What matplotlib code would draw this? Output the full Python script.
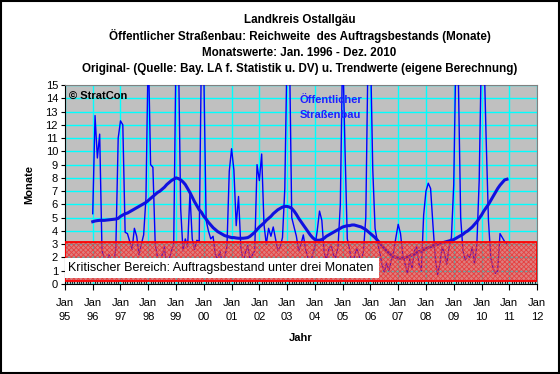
import matplotlib
matplotlib.use("Agg")
import matplotlib.pyplot as plt
from matplotlib.patches import Rectangle
import numpy as np

plt.rcParams['font.family'] = ['Liberation Sans', 'DejaVu Sans']
plt.rcParams['hatch.linewidth'] = 0.6

# Monatswerte Jan 1996 - Dez 2010, Reichweite in Monaten (Werte > 15 abgeschnitten)
original_1996 = [5.3, 12.7, 9.5, 11.3, 2.5, 2.0, 1.5, 2.2, 1.8, 1.2, 2.8, 11.0]
original_1997 = [12.3, 12.0, 3.9, 3.8, 3.2, 2.6, 4.2, 3.6, 2.2, 3.0, 3.7, 6.5]
original_1998 = [18.0, 9.0, 8.8, 3.0, 2.0, 1.5, 2.2, 2.8, 1.2, 1.8, 2.5, 3.0]
original_1999 = [18.0, 18.0, 5.7, 2.5, 3.4, 2.8, 6.8, 3.4, 2.6, 3.3, 3.2, 18.0]
original_2000 = [16.0, 4.8, 4.0, 3.4, 3.6, 2.2, 1.8, 2.5, 1.4, 2.0, 2.8, 8.5]
original_2001 = [10.2, 8.6, 4.4, 6.6, 2.8, 1.6, 2.4, 2.9, 1.8, 2.2, 2.5, 9.0]
original_2002 = [7.8, 9.8, 4.5, 3.0, 4.2, 3.6, 4.3, 3.4, 2.5, 2.8, 3.5, 7.2]
original_2003 = [18.0, 18.0, 5.0, 4.3, 3.6, 2.5, 3.0, 3.7, 2.6, 2.0, 1.5, 2.2]
original_2004 = [2.8, 4.0, 5.5, 4.8, 2.4, 1.8, 2.6, 3.0, 2.2, 2.0, 2.8, 6.0]
original_2005 = [18.0, 10.3, 3.4, 2.6, 1.5, 2.0, 2.7, 2.2, 1.6, 2.5, 5.0, 18.0]
original_2006 = [18.0, 8.7, 4.2, 3.2, 2.4, 1.5, 0.9, 1.6, 1.0, 1.8, 2.4, 3.5]
original_2007 = [4.5, 3.8, 2.2, 1.5, 0.8, 1.9, 1.2, 2.5, 2.8, 1.5, 1.0, 5.2]
original_2008 = [7.0, 7.6, 7.2, 4.5, 2.0, 0.7, 1.5, 2.8, 2.3, 1.5, 2.8, 3.5]
original_2009 = [7.5, 18.0, 15.5, 5.0, 2.5, 1.8, 2.2, 2.0, 2.8, 1.5, 3.0, 7.8]
original_2010 = [18.0, 18.0, 11.0, 4.8, 2.0, 1.2, 0.8, 1.0, 3.8, 3.5, 3.2, 3.0]

trend_1996 = [4.7, 4.75, 4.78, 4.8, 4.8, 4.8, 4.82, 4.84, 4.86, 4.88, 4.9, 4.95]
trend_1997 = [5.1, 5.2, 5.3, 5.35, 5.45, 5.55, 5.65, 5.75, 5.85, 5.95, 6.05, 6.15]
trend_1998 = [6.3, 6.45, 6.6, 6.75, 6.9, 7.0, 7.15, 7.3, 7.5, 7.65, 7.8, 7.9]
trend_1999 = [8.0, 7.95, 7.85, 7.7, 7.5, 7.2, 6.9, 6.55, 6.2, 5.9, 5.6, 5.4]
trend_2000 = [5.1, 4.9, 4.65, 4.45, 4.25, 4.1, 3.95, 3.85, 3.75, 3.65, 3.6, 3.55]
trend_2001 = [3.5, 3.5, 3.47, 3.45, 3.45, 3.45, 3.47, 3.5, 3.6, 3.75, 3.9, 4.1]
trend_2002 = [4.3, 4.45, 4.6, 4.8, 4.95, 5.1, 5.3, 5.45, 5.6, 5.7, 5.8, 5.85]
trend_2003 = [5.85, 5.8, 5.7, 5.5, 5.25, 4.95, 4.7, 4.45, 4.2, 3.95, 3.7, 3.5]
trend_2004 = [3.35, 3.3, 3.3, 3.35, 3.45, 3.6, 3.7, 3.8, 3.9, 4.0, 4.1, 4.2]
trend_2005 = [4.3, 4.35, 4.4, 4.4, 4.45, 4.45, 4.4, 4.35, 4.3, 4.2, 4.1, 3.95]
trend_2006 = [3.8, 3.65, 3.5, 3.3, 3.1, 2.9, 2.7, 2.5, 2.35, 2.2, 2.1, 2.0]
trend_2007 = [1.95, 1.95, 1.95, 2.0, 2.05, 2.1, 2.2, 2.25, 2.35, 2.45, 2.5, 2.6]
trend_2008 = [2.65, 2.75, 2.8, 2.9, 2.95, 3.0, 3.05, 3.1, 3.15, 3.2, 3.25, 3.3]
trend_2009 = [3.35, 3.45, 3.55, 3.65, 3.75, 3.9, 4.0, 4.15, 4.3, 4.5, 4.7, 4.95]
trend_2010 = [5.2, 5.5, 5.75, 6.0, 6.3, 6.6, 6.9, 7.2, 7.45, 7.65, 7.85, 7.9]

original = (original_1996 + original_1997 + original_1998 + original_1999 + original_2000 +
            original_2001 + original_2002 + original_2003 + original_2004 + original_2005 +
            original_2006 + original_2007 + original_2008 + original_2009 + original_2010)
trend = (trend_1996 + trend_1997 + trend_1998 + trend_1999 + trend_2000 +
         trend_2001 + trend_2002 + trend_2003 + trend_2004 + trend_2005 +
         trend_2006 + trend_2007 + trend_2008 + trend_2009 + trend_2010)

x = 1996 + np.arange(len(original)) / 12.0

tick_years = list(range(1995, 2013))
tick_labels = ["Jan\n%02d" % (y % 100) for y in tick_years]

fig = plt.figure(figsize=(5.6, 3.74), dpi=100)
ax = fig.add_axes([0.116, 0.2406, 0.843, 0.532])
ax.set_facecolor('#C0C0C0')

ax.plot(x, original, color='#0000FF', lw=1.0, zorder=3)
ax.plot(x, trend, color='#1010E0', lw=2.2, zorder=4)

# kritischer Bereich
ax.add_patch(Rectangle((1995, 0.25), 17, 2.9, facecolor='#FF3030', edgecolor='none', alpha=0.45, zorder=5))
ax.add_patch(Rectangle((1995, 0.25), 17, 2.9, facecolor='none', edgecolor='#E84040', hatch='xxxxxxx', lw=0, zorder=6))
ax.add_patch(Rectangle((1995, 0.25), 17, 2.9, facecolor='none', edgecolor='#FF0000', lw=1.3, zorder=7))
ax.add_patch(Rectangle((1995, 0.45), 11.3, 1.5, facecolor='white', edgecolor='none', zorder=8))
ax.text(1995.12, 1.2, "Kritischer Bereich: Auftragsbestand unter drei Monaten",
        fontsize=9, va='center', ha='left', zorder=9)

ax.text(1995.15, 14.2, "© StratCon", fontsize=8, fontweight='bold', va='center', zorder=9)
ax.text(2003.45, 13.3, "Öffentlicher\nStraßenbau", fontsize=8, fontweight='bold',
        color='#2020FF', va='center', linespacing=1.6, zorder=9)

ax.set_xlim(1995, 2012)
ax.set_ylim(0, 15)
ax.set_yticks(range(0, 16))
ax.set_xticks(tick_years)
ax.set_xticklabels(tick_labels, fontsize=8, linespacing=1.5)
ax.set_xticks(np.arange(1995, 2012, 1 / 12.0), minor=True)
ax.tick_params(axis='y', labelsize=8, length=3, pad=2)
ax.tick_params(axis='x', which='major', length=4, pad=6)
ax.tick_params(axis='x', which='minor', length=2, direction='in')

ax.grid(True, which='major', color='#00FFFF', lw=1.0, zorder=1)
ax.set_axisbelow(True)

for s in ['top', 'right']:
    ax.spines[s].set_color('#808080')
for s in ['left', 'bottom']:
    ax.spines[s].set_color('black')

ax.set_ylabel("Monate", fontsize=8, fontweight='bold', labelpad=8)
ax.set_xlabel("Jahr", fontsize=8, fontweight='bold', labelpad=8)

titles = ["Landkreis Ostallgäu",
          "Öffentlicher Straßenbau: Reichweite  des Auftragsbestands (Monate)",
          "Monatswerte: Jan. 1996 - Dez. 2010",
          "Original- (Quelle: Bay. LA f. Statistik u. DV) u. Trendwerte (eigene Berechnung)"]
for i, t in enumerate(titles):
    fig.text(0.535, 0.946 - i * 0.0435, t, fontsize=8.4, fontweight='bold', ha='center', va='center')

fig.patches.append(Rectangle((0.001, 0.002), 0.997, 0.996, transform=fig.transFigure,
                             facecolor='none', edgecolor='black', lw=1.5))

fig.savefig("out.png", dpi=100)
